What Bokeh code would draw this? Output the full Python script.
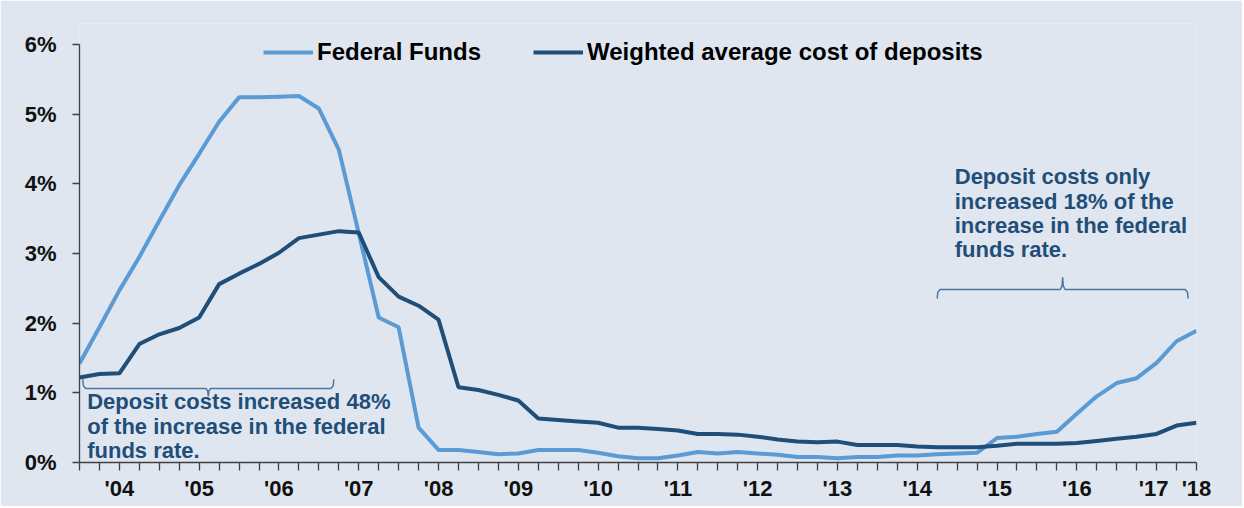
from bokeh.plotting import figure
from bokeh.models import FixedTicker, Legend, LegendItem, Label
from bokeh.embed import file_html
from bokeh.resources import INLINE

# ---------------- data (quarterly, index 0 .. 56) ----------------
quarter_index = list(range(57))

federal_funds = [1.42, 1.94, 2.47, 2.95, 3.47, 3.98, 4.43, 4.89, 5.24, 5.24,
                 5.25, 5.26, 5.08, 4.49, 3.29, 2.08, 1.94, 0.50, 0.18, 0.18,
                 0.15, 0.12, 0.13, 0.18, 0.18, 0.18, 0.14, 0.09, 0.06, 0.06,
                 0.10, 0.15, 0.13, 0.15, 0.13, 0.11, 0.08, 0.08, 0.06, 0.08,
                 0.08, 0.10, 0.10, 0.12, 0.13, 0.14, 0.35, 0.37, 0.41, 0.44,
                 0.70, 0.95, 1.14, 1.21, 1.43, 1.74, 1.89]

deposit_cost = [1.22, 1.27, 1.28, 1.70, 1.84, 1.93, 2.08, 2.56, 2.71, 2.85,
                3.01, 3.22, 3.27, 3.32, 3.30, 2.66, 2.38, 2.25, 2.05, 1.08,
                1.04, 0.97, 0.89, 0.63, 0.61, 0.59, 0.57, 0.50, 0.50, 0.48,
                0.46, 0.41, 0.41, 0.40, 0.37, 0.33, 0.30, 0.29, 0.30, 0.25,
                0.25, 0.25, 0.23, 0.22, 0.22, 0.22, 0.24, 0.27, 0.27, 0.27,
                0.28, 0.31, 0.34, 0.37, 0.41, 0.53, 0.57]

year_tick_positions = [2, 6, 10, 14, 18, 22, 26, 30, 34, 38, 42, 46, 50, 54, 56]
year_tick_labels = ["'04", "'05", "'06", "'07", "'08", "'09", "'10", "'11",
                    "'12", "'13", "'14", "'15", "'16", "'17 ", "'18"]

y_tick_values = [0, 1, 2, 3, 4, 5, 6]
y_tick_labels = ["0%", "1%", "2%", "3%", "4%", "5%", "6%"]

series_names = ["Federal Funds", "Weighted average cost of deposits"]

note_left = ["Deposit costs increased 48%",
             "of the increase in the federal",
             "funds rate."]
note_right = ["Deposit costs only",
              "increased 18% of the",
              "increase in the federal",
              "funds rate."]

# ---------------- style ----------------
BG = "#dfe6f0"
FED = "#5b9bd5"
DEP = "#1f4e79"
NOTE = "#1f4e79"
BRACE = "#4f76a0"
AXIS = "#404040"
FONT = "Liberation Sans"

# frame: 69.667 px per percentage point; extra headroom above 6% for the legend
p = figure(frame_width=1117, frame_height=439,
           x_range=(0, 56), y_range=(0, 6.3),
           output_backend="svg", toolbar_location=None,
           min_border_left=79, min_border_right=46,
           min_border_top=23, min_border_bottom=44,
           background_fill_color=BG, border_fill_color=BG,
           outline_line_color=None)

p.xgrid.visible = False
p.ygrid.visible = False

r_fed = p.line(quarter_index, federal_funds, line_color=FED, line_width=4)
r_dep = p.line(quarter_index, deposit_cost, line_color=DEP, line_width=4)

# axes
xa = p.xaxis[0]
xa.ticker = FixedTicker(ticks=quarter_index)
overrides = {i: "" for i in quarter_index}
for pos, lab in zip(year_tick_positions, year_tick_labels):
    overrides[pos] = lab
xa.major_label_overrides = overrides
xa.minor_tick_line_color = None
xa.major_tick_in = 0
xa.major_tick_out = 8
xa.major_label_standoff = 5
xa.axis_line_color = AXIS
xa.axis_line_width = 1.3
xa.major_tick_line_color = AXIS
xa.major_tick_line_width = 1.3
xa.major_label_text_font = FONT
xa.major_label_text_font_style = "bold"
xa.major_label_text_font_size = "22px"
xa.major_label_text_color = "#111111"

ya = p.yaxis[0]
ya.ticker = FixedTicker(ticks=y_tick_values)
ya.bounds = (0, 6)
ya.major_label_overrides = dict(zip(y_tick_values, y_tick_labels))
ya.minor_tick_line_color = None
ya.major_tick_in = 0
ya.major_tick_out = 7
ya.major_label_standoff = 16
ya.axis_line_color = AXIS
ya.axis_line_width = 1.3
ya.major_tick_line_color = AXIS
ya.major_tick_line_width = 1.3
ya.major_label_text_font = FONT
ya.major_label_text_font_style = "bold"
ya.major_label_text_font_size = "22px"
ya.major_label_text_color = "#111111"

# legends (two, placed independently; location = bottom-left corner in frame px)
def make_legend(name, renderer, loc):
    return Legend(items=[LegendItem(label=name, renderers=[renderer])],
                  location=loc, orientation="horizontal",
                  glyph_width=50, glyph_height=20, label_standoff=4,
                  padding=0, margin=0, spacing=0,
                  border_line_alpha=0, background_fill_alpha=0,
                  label_text_font=FONT, label_text_font_style="bold",
                  label_text_font_size="24px", label_text_color="#000000")

p.add_layout(make_legend(series_names[0], r_fed, (184, 396)))
p.add_layout(make_legend(series_names[1], r_dep, (454, 396)))

# braces (annotation geometry in data units)
def brace(x0, x1, y, end_dy, cusp_dy):
    xm = (x0 + x1) / 2.0
    xs = [x0, x0 + 0.03, x0 + 0.15, xm - 0.12, xm - 0.03, xm, xm + 0.03, xm + 0.12,
          x1 - 0.15, x1 - 0.03, x1]
    ys = [y + end_dy, y + end_dy * 0.3, y, y, y + cusp_dy * 0.3, y + cusp_dy,
          y + cusp_dy * 0.3, y, y, y + end_dy * 0.3, y + end_dy]
    return xs, ys

bx, by = brace(0.165, 12.75, 1.062, 0.13, -0.115)
p.line(bx, by, line_color=BRACE, line_width=1.5)
bx, by = brace(43.0, 55.58, 2.483, -0.13, 0.175)
p.line(bx, by, line_color=BRACE, line_width=1.5)

# notes
def add_note(lines, x, y_first, step):
    for i, t in enumerate(lines):
        p.add_layout(Label(x=x, y=y_first - i * step, x_units="data", y_units="data",
                           text=t, text_font=FONT, text_font_style="bold",
                           text_font_size="22px", text_color=NOTE,
                           text_baseline="alphabetic", text_align="left"))

add_note(note_left, 0.386, 0.871, 0.3475)
add_note(note_right, 43.88, 4.098, 0.3475)

open("out.html", "w").write(file_html(p, INLINE))
